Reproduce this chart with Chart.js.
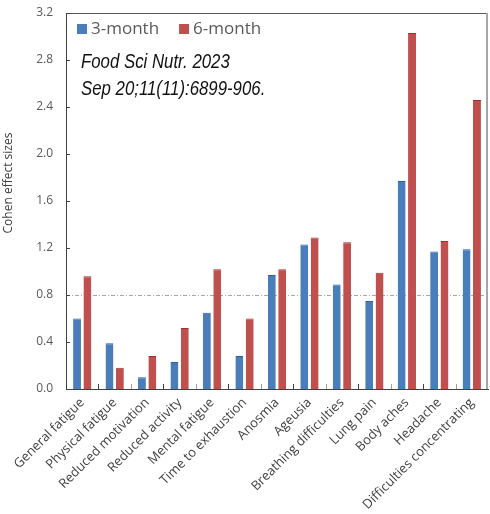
<!DOCTYPE html>
<html>
<head>
<meta charset="utf-8">
<script src="https://cdn.jsdelivr.net/npm/chart.js@4/dist/chart.umd.min.js"></script>
<style>
  html, body { margin: 0; padding: 0; background: #fff; }
  #wrap { width: 490px; height: 514px; }
</style>
</head>
<body>
<div id="wrap"><canvas id="chart" width="490" height="514"></canvas></div>
<script>
// Chart data
const symptoms = [
  'General fatigue', 'Physical fatigue', 'Reduced motivation', 'Reduced activity',
  'Mental fatigue', 'Time to exhaustion', 'Anosmia', 'Ageusia',
  'Breathing difficulties', 'Lung pain', 'Body aches', 'Headache',
  'Difficulties concentrating'
];
const threeMonth = [0.60, 0.39, 0.10, 0.23, 0.65, 0.28, 0.97, 1.23, 0.89, 0.75, 1.77, 1.17, 1.19];
const sixMonth = [0.96, 0.18, 0.28, 0.52, 1.02, 0.60, 1.02, 1.29, 1.25, 0.99, 3.03, 1.26, 2.46];
const seriesNames = ['3-month', '6-month'];
const yTicks = [0.0, 0.4, 0.8, 1.2, 1.6, 2.0, 2.4, 2.8, 3.2];
const refValue = 0.8;
const yTitle = 'Cohen effect sizes';
const noteLines = ['Food Sci Nutr. 2023', 'Sep 20;11(11):6899-906.'];

const FONT = '"Open Sans", "Noto Sans", sans-serif';

// Extra drawing: box border, inward ticks, reference line, legend, note
const decorations = {
  id: 'decorations',
  beforeDatasetsDraw(chart) {
    const { ctx, chartArea: a, scales } = chart;
    const y = scales.y;
    ctx.save();
    // dashed reference line
    const ry = Math.round(y.getPixelForValue(refValue)) + 0.5;
    ctx.strokeStyle = '#a6a6a6';
    ctx.lineWidth = 1;
    ctx.setLineDash([4, 2, 1, 2]);
    ctx.beginPath();
    ctx.moveTo(a.left, ry);
    ctx.lineTo(a.right, ry);
    ctx.stroke();
    ctx.restore();
  },
  afterDraw(chart) {
    const { ctx, chartArea: a, scales } = chart;
    const y = scales.y, x = scales.x;
    ctx.save();
    // top + right frame
    ctx.strokeStyle = '#595959';
    ctx.lineWidth = 1;
    ctx.beginPath();
    ctx.moveTo(a.left, a.top + 0.5);
    ctx.lineTo(a.right, a.top + 0.5);
    ctx.stroke();
    ctx.strokeStyle = '#a6a6a6';
    ctx.lineWidth = 2;
    ctx.beginPath();
    ctx.moveTo(a.right - 1, a.top);
    ctx.lineTo(a.right - 1, a.bottom);
    ctx.stroke();

    // inward y ticks
    ctx.strokeStyle = '#404040';
    ctx.lineWidth = 1;
    yTicks.forEach(v => {
      const py = Math.round(y.getPixelForValue(v)) + 0.5;
      ctx.beginPath();
      ctx.moveTo(a.left, py);
      ctx.lineTo(a.left + 4, py);
      ctx.stroke();
    });
    // inward x ticks at category boundaries
    for (let i = 1; i < symptoms.length; i++) {
      const px = Math.round((x.getPixelForValue(i - 1) + x.getPixelForValue(i)) / 2) + 0.5;
      ctx.strokeStyle = i % 2 ? '#404040' : '#a0a0a0';
      ctx.beginPath();
      ctx.moveTo(px, a.bottom);
      ctx.lineTo(px, a.bottom - 5);
      ctx.stroke();
    }

    // legend
    ctx.font = '17px ' + FONT;
    ctx.textBaseline = 'middle';
    ctx.textAlign = 'left';
    let lx = a.left + 11;
    const ly = a.top + 16;
    chart.data.datasets.forEach(ds => {
      ctx.fillStyle = ds.backgroundColor;
      ctx.fillRect(lx, ly - 5, 10, 10);
      ctx.fillStyle = '#595959';
      ctx.fillText(ds.label, lx + 14, ly);
      lx += 14 + ctx.measureText(ds.label).width + 20;
    });

    // citation note (narrowed to mimic the handwritten face)
    ctx.save();
    ctx.translate(a.left + 15, a.top + 55);
    ctx.scale(0.8, 1);
    ctx.font = 'italic 21px "Liberation Sans", sans-serif';
    ctx.fillStyle = '#111';
    ctx.textBaseline = 'alphabetic';
    noteLines.forEach((t, i) => ctx.fillText(t, 0, i * 27));
    ctx.restore();

    // y axis title
    ctx.translate(9, (a.top + a.bottom) / 2 - 18);
    ctx.rotate(-Math.PI / 2);
    ctx.font = '12px ' + FONT;
    ctx.fillStyle = '#404040';
    ctx.textAlign = 'center';
    ctx.textBaseline = 'middle';
    ctx.fillText(yTitle, 0, 0);
    ctx.restore();
  }
};

const edge = { top: 1, left: 0, right: 0, bottom: 0 };

new Chart(document.getElementById('chart'), {
  type: 'bar',
  data: {
    labels: symptoms,
    datasets: [
      {
        label: seriesNames[0],
        data: threeMonth,
        backgroundColor: '#4a7ebb',
        borderColor: '#2f5f9a',
        borderWidth: edge,
        borderSkipped: false,
        categoryPercentage: 0.64,
        barPercentage: 0.76
      },
      {
        label: seriesNames[1],
        data: sixMonth,
        backgroundColor: '#c0504d',
        borderColor: '#a0302e',
        borderWidth: edge,
        borderSkipped: false,
        categoryPercentage: 0.64,
        barPercentage: 0.76
      }
    ]
  },
  options: {
    responsive: false,
    animation: false,
    layout: { padding: { top: 13, right: 2, left: 0, bottom: 0 } },
    plugins: {
      legend: { display: false },
      tooltip: { enabled: false }
    },
    scales: {
      x: {
        grid: { display: false, drawTicks: false },
        border: { display: true, color: '#404040', width: 1 },
        ticks: {
          autoSkip: false,
          minRotation: 45,
          maxRotation: 45,
          padding: 6,
          color: '#404040',
          font: { family: FONT, size: 13 }
        },
        afterFit(scale) { scale.height = 125; }
      },
      y: {
        min: 0,
        max: 3.2,
        afterBuildTicks(scale) { scale.ticks = yTicks.map(v => ({ value: v })); },
        grid: { display: false, drawTicks: false },
        border: { display: true, color: '#404040', width: 1 },
        ticks: {
          padding: 13,
          color: '#595959',
          font: { family: FONT, size: 12 },
          callback: v => Number(v).toFixed(1)
        },
        afterFit(scale) {
          scale.width = 66;
          scale.paddingTop = 0;
          scale.paddingBottom = 0;
        }
      }
    }
  },
  plugins: [decorations]
});
</script>
</body>
</html>
